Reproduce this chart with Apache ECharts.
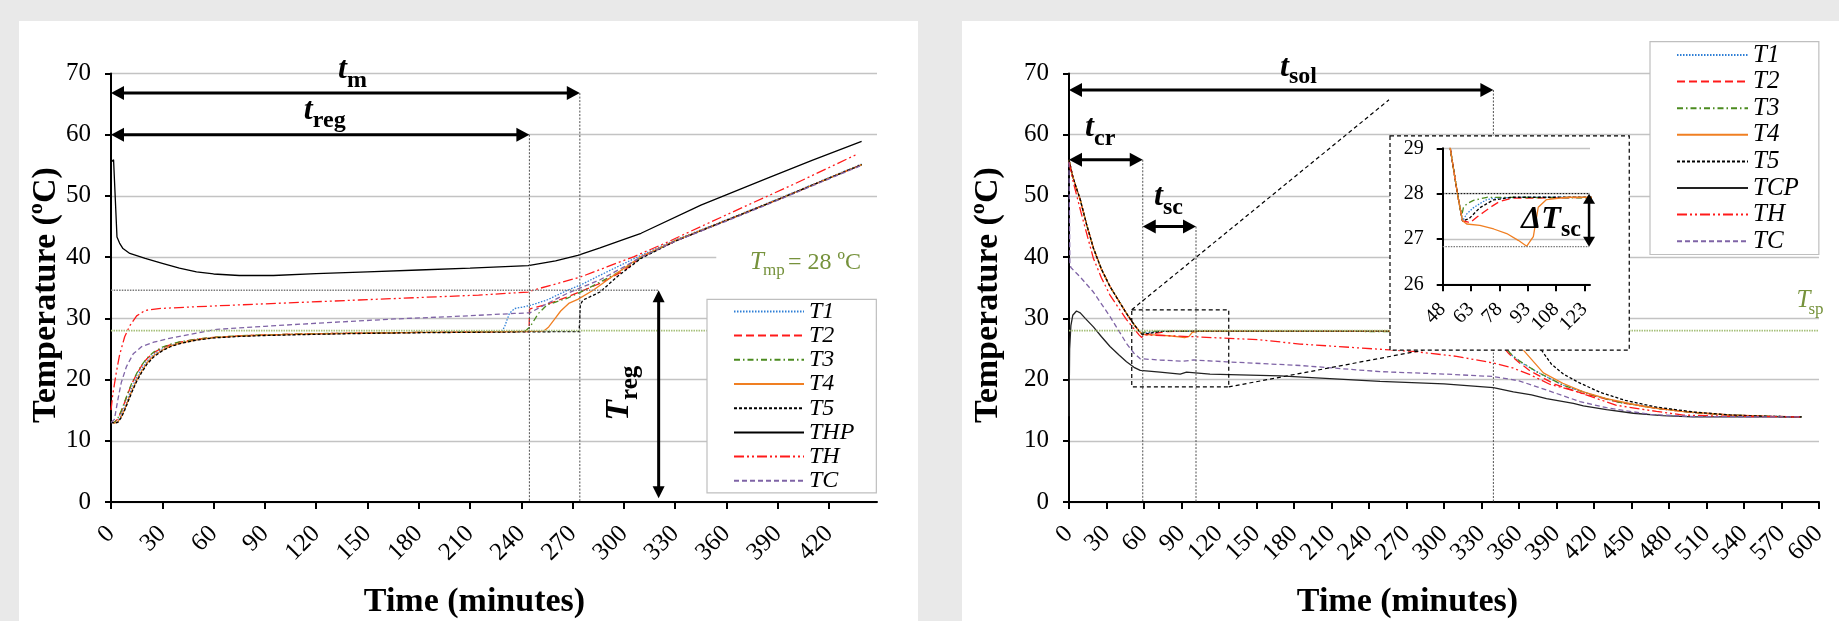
<!DOCTYPE html>
<html><head><meta charset="utf-8">
<script src="https://cdn.jsdelivr.net/npm/echarts@6/dist/echarts.min.js"></script>
<style>
html,body{margin:0;padding:0;background:#e9e9e9;width:1839px;height:621px;overflow:hidden}
.panel{position:absolute;background:#fff}
#chart{position:absolute;left:0;top:0;width:1839px;height:621px}
</style></head><body>
<div class="panel" style="left:19px;top:21px;width:899px;height:600px"></div>
<div class="panel" style="left:962px;top:21px;width:877px;height:600px"></div>
<div id="chart"></div>
<script>
// ---------------- DATA ----------------
const xTicksLeft = [0,30,60,90,120,150,180,210,240,270,300,330,360,390,420];
const xTicksRight = [0,30,60,90,120,150,180,210,240,270,300,330,360,390,420,450,480,510,540,570,600];
const xTicksInset = [48,63,78,93,108,123];
const legendLeft = ['T1','T2','T3','T4','T5','THP','TH','TC'];
const legendRight = ['T1','T2','T3','T4','T5','TCP','TH','TC'];

// Left chart (melting)
const L_T1 = [[0,13.0],[1,12.9],[2,12.9],[4,13.2],[6,14.2],[8,15.6],[10,17.0],[12,18.5],[15,20.3],[18,21.8],[21,23.0],[25,24.1],[30,25.0],[35,25.6],[40,26.0],[50,26.5],[60,26.85],[75,27.1],[90,27.25],[120,27.45],[150,27.6],[180,27.7],[210,27.75],[228,27.8],[230,28.5],[233,30.8],[236,31.6],[240,31.8],[245,32.1],[255,33.0],[267,34.6],[275,35.5],[285,36.9],[296,38.4],[310,40.3],[330,42.8],[360,46.1],[390,49.5],[420,53.0],[439,55.2]];
const L_T2 = [[0,13.0],[1,12.9],[2,13.0],[4,13.6],[6,14.8],[8,16.3],[10,17.8],[12,19.2],[15,20.9],[18,22.3],[21,23.4],[25,24.4],[30,25.2],[35,25.7],[40,26.1],[50,26.6],[60,26.9],[75,27.15],[90,27.3],[120,27.5],[150,27.6],[180,27.7],[210,27.78],[244.5,27.85],[244.8,31.5],[247,31.7],[255,32.3],[267,33.5],[286,35.7],[300,37.8],[310,40.0],[330,42.6],[360,46.0],[390,49.4],[420,52.9],[439,55.1]];
const L_T3 = [[0,13.0],[1,12.9],[2,13.0],[4,13.7],[6,14.9],[8,16.4],[10,17.9],[12,19.3],[15,21.0],[18,22.4],[21,23.5],[25,24.5],[30,25.3],[35,25.8],[40,26.15],[50,26.6],[60,26.9],[75,27.15],[90,27.3],[120,27.5],[150,27.6],[180,27.7],[210,27.78],[242,27.85],[245,28.6],[250,30.8],[255,32.2],[267,33.3],[277,34.6],[296,37.4],[310,39.9],[330,42.7],[360,46.0],[390,49.4],[420,52.9],[439,55.1]];
const L_T4 = [[0,13.0],[1,12.9],[2,12.9],[4,13.1],[6,13.9],[8,15.2],[10,16.6],[12,18.0],[15,19.9],[18,21.4],[21,22.7],[25,23.9],[30,24.8],[35,25.5],[40,25.9],[50,26.5],[60,26.85],[75,27.1],[90,27.25],[120,27.45],[150,27.6],[180,27.7],[210,27.75],[253,27.9],[256,28.6],[259,29.7],[263,31.2],[268,32.5],[273,33.1],[282,34.6],[296,37.4],[310,40.1],[330,42.7],[360,46.0],[390,49.4],[420,52.9],[439,55.1]];
const L_T5 = [[0,13.0],[1,12.9],[2,12.9],[4,13.0],[6,13.8],[8,15.0],[10,16.4],[12,17.8],[15,19.7],[18,21.2],[21,22.5],[25,23.7],[30,24.7],[35,25.4],[40,25.85],[50,26.45],[60,26.8],[75,27.05],[90,27.2],[120,27.4],[150,27.55],[180,27.65],[210,27.72],[273.8,27.85],[274.5,32.2],[276,33.0],[280,33.5],[286,34.3],[296,36.8],[310,39.8],[330,42.6],[360,46.0],[390,49.4],[420,52.9],[439,55.1]];
const L_THP = [[0,55.5],[1.5,55.9],[3.5,43.3],[5,42.3],[7,41.4],[11,40.6],[20,39.8],[30,39.0],[40,38.2],[50,37.6],[60,37.25],[75,37.0],[95,37.0],[120,37.3],[150,37.6],[180,37.9],[210,38.2],[244,38.6],[260,39.4],[273,40.3],[286,41.5],[300,42.9],[310,43.9],[345,48.5],[384,52.9],[410,55.8],[439,58.9]];
const L_TH = [[0,15.0],[1,17.5],[3,21.0],[5,24.0],[8,27.0],[11,28.8],[15,30.4],[20,31.3],[28,31.6],[50,31.9],[75,32.2],[110,32.6],[145,33.0],[180,33.4],[215,33.8],[244,34.3],[248,34.7],[260,35.6],[275,36.8],[290,38.4],[306,40.1],[325,42.4],[345,45.0],[370,48.2],[400,52.0],[437,56.9]];
const L_TC = [[0,13.0],[2,13.5],[4,16.7],[6,19.5],[9,22.1],[13,24.2],[18,25.4],[25,26.1],[32,26.6],[50,27.6],[62,28.2],[90,28.7],[120,29.2],[166,29.9],[200,30.3],[236,30.8],[245,30.9],[255,32.4],[267,34.1],[286,36.3],[300,38.4],[310,40.0],[330,42.6],[360,45.9],[390,49.3],[420,52.8],[439,55.0]];

// Right chart (solidification)
const R_cool = [[0,55.9],[3,53.2],[6,51.2],[9,49.4],[14,45.4],[19.5,41.5],[26,38.0],[32.8,35.2],[40,32.8],[46,30.8],[52,29.0],[56,27.95]];
const R_T1 = R_cool.concat([[58.5,27.4],[60.7,27.55],[64,27.68],[67.7,27.78],[71,27.86],[74.8,27.9],[90,27.92],[150,27.92],[250,27.9],[340,27.85],[345,26.8],[349,25.3],[353,24.2],[360,23.0],[374,21.3],[395,19.1],[420,17.4],[440,16.3],[470,15.3],[500,14.6],[530,14.2],[560,14.0],[586,13.9]]);
const R_T2 = R_cool.concat([[58.5,27.4],[60.7,27.38],[62.5,27.36],[66,27.48],[70,27.6],[74,27.72],[78.3,27.83],[85,27.9],[150,27.92],[250,27.9],[338,27.85],[342,26.7],[346,25.6],[352,24.2],[360,22.8],[369,21.4],[389,19.2],[410,17.8],[440,16.3],[470,15.3],[500,14.6],[530,14.2],[560,14.0],[586,13.9]]);
const R_T3 = R_cool.concat([[58,27.5],[59,27.7],[61,27.78],[64.3,27.85],[71.5,27.92],[150,27.9],[250,27.85],[341,27.8],[346,26.4],[350,25.1],[353,24.3],[360,23.1],[374,21.3],[395,19.1],[420,17.4],[440,16.3],[470,15.3],[500,14.6],[530,14.2],[560,14.0],[586,13.9]]);
const R_T4 = R_cool.concat([[58.5,27.4],[60.7,27.33],[67.7,27.3],[75,27.22],[81.9,27.12],[88,26.97],[92.5,26.84],[96,27.05],[98.6,27.7],[103,27.87],[114,27.92],[250,27.92],[352,27.9],[357,27.0],[360,26.1],[363.5,24.8],[370,23.3],[379.5,21.1],[395,19.4],[411.5,18.0],[430,16.9],[460,15.6],[490,14.8],[530,14.2],[560,14.0],[586,13.9]]);
const R_T5 = R_cool.concat([[58.5,27.4],[62,27.45],[67.7,27.69],[74.8,27.86],[85,27.92],[250,27.92],[366,27.9],[372,26.8],[378,24.8],[386,22.5],[395.5,20.9],[408,19.5],[425,17.9],[445,16.6],[470,15.5],[500,14.7],[530,14.2],[560,14.0],[586,13.9]]);
const R_TCP = [[0,14.0],[0.5,25.0],[1.5,28.8],[3,30.5],[6,31.2],[9,30.9],[13,30.0],[19.5,28.6],[26,27.0],[32.8,25.4],[40,24.0],[46,22.9],[52,22.0],[57,21.5],[72.8,21.2],[89,20.9],[94,21.2],[112.8,20.9],[168.8,20.6],[248.8,19.7],[300,19.3],[339.5,18.7],[355.5,18.0],[370,17.5],[382,16.9],[403.5,16.1],[411.5,15.7],[430,15.1],[451.5,14.5],[475,14.1],[499,13.9],[586,13.9]];
const R_TH = [[0,55.5],[3.5,52.2],[10,47.0],[19.5,39.8],[26,36.6],[32.8,33.8],[40,31.6],[46,29.8],[52,28.3],[56,27.3],[58,26.9],[61,27.3],[75,27.2],[99.5,27.0],[152.8,26.5],[184.8,25.8],[230,25.2],[275.5,24.6],[310,23.8],[339.5,22.7],[355,21.9],[368.8,20.8],[385,19.2],[403.5,18.2],[438,15.8],[470,14.8],[491.5,14.2],[530,14.0],[586,13.9]];
const R_TC = [[0,55.5],[0.7,39.0],[1.5,38.3],[8.8,36.8],[19.5,34.3],[32.8,30.3],[46,25.9],[52,24.3],[57,23.4],[72.8,23.2],[91.5,23.0],[99.5,23.2],[126,22.9],[184.8,22.3],[248.8,21.3],[300,20.9],[339.5,20.5],[360,19.8],[382,18.3],[408.8,16.4],[430,15.4],[465,14.3],[500,13.95],[586,13.9]];

// characteristic times / temperatures used by annotations
const tM = 274.2, tReg = 244.7, TregLevel = 34.6, TregX = 320.3;
const tSol = 339.5, tCr = 59, tSc = 101.6, Tmp = 28, dTlow = 26.83;

// ---------------- STYLE ----------------
const serif = 'Liberation Serif';
const ST = {
  T1:{c:'#2e7fd6', d:[1.5,1.5]},
  T2:{c:'#ff1a1a', d:[8,4]},
  T3:{c:'#4b8b1f', d:[6,3,1.5,3]},
  T4:{c:'#f07f22', d:'solid'},
  T5:{c:'#000000', d:[3,2]},
  THP:{c:'#000000', d:'solid'},
  TCP:{c:'#222222', d:'solid'},
  TH:{c:'#ff1a1a', d:[10,3,2,3,2,3]},
  TC:{c:'#7f64a6', d:[5,3]}
};
function S(name, data, gi, z){
  const st = ST[name];
  return {name, type:'line', xAxisIndex:gi, yAxisIndex:gi, data, symbol:'none', showSymbol:false,
    lineStyle:{color:st.c, width:1.3, type:st.d}, itemStyle:{color:st.c},
    z: z||2, silent:true, clip:true, emphasis:{disabled:true}};
}
function xAx(gi, min, max, ticks, fs, margin, z){
  return {type:'value', gridIndex:gi, min, max, z:z||0,
    axisLine:{show:true, onZero:false, lineStyle:{color:'#000', width:2}},
    axisTick:{show:true, customValues:ticks, length:7, lineStyle:{color:'#000', width:2}},
    axisLabel:{customValues:ticks, rotate:45, margin, fontSize:fs, fontFamily:serif, color:'#000'},
    splitLine:{show:false}};
}
function yAx(gi, min, max, interval, fs, margin, z){
  return {type:'value', gridIndex:gi, min, max, interval, z:z||0,
    axisLine:{show:true, lineStyle:{color:'#000', width:2}},
    axisTick:{show:true, length:6, lineStyle:{color:'#000', width:2}},
    axisLabel:{margin, fontSize:fs, fontFamily:serif, color:'#000'},
    splitLine:{show:true, lineStyle:{color:'#c3c3c3', width:1.3}}};
}
function legend(names, left, top, fs, lh, iw, pad){
  const ts = {fontFamily:serif, fontStyle:'italic', fontSize:fs, lineHeight:lh, color:'#000'};
  return {data:names.map(n => ({name:n, textStyle:ts})), orient:'vertical', left, top, itemWidth:iw, itemHeight:14, itemGap:0,
    padding:pad, backgroundColor:'#fff', borderColor:'#bfbfbf', borderWidth:1.2,
    selectedMode:false,
    itemStyle:{color:'rgba(0,0,0,0)', borderWidth:0, opacity:0},
    textStyle:ts};
}

const option = {
  animation:false,
  grid:[
    {left:111, top:73.5, width:766, height:428.5, outerBoundsMode:'none'},
    {left:1069, top:73.5, width:750, height:428.5, outerBoundsMode:'none'},
    {left:1442.7, top:148.3, width:147.3, height:136, outerBoundsMode:'none', z:11}
  ],
  xAxis:[
    xAx(0, 0, 448, xTicksLeft, 25, 28),
    xAx(1, 0, 600, xTicksRight, 25, 28),
    xAx(2, 48, 126, xTicksInset, 20, 22, 11)
  ],
  yAxis:[
    yAx(0, 0, 70, 10, 25, 20),
    yAx(1, 0, 70, 10, 25, 20),
    yAx(2, 26, 29, 1, 20, 19, 11)
  ],
  legend:[
    legend(legendLeft, 707, 299.3, 24, 24.2, 70, [0,22,0,26]),
    legend(legendRight, 1650, 41.7, 25, 26.6, 71, [0,20,0,26])
  ],
  series:[
    S('T1', L_T1, 0), S('T2', L_T2, 0), S('T3', L_T3, 0), S('T4', L_T4, 0), S('T5', L_T5, 0),
    S('THP', L_THP, 0), S('TH', L_TH, 0), S('TC', L_TC, 0),
    S('T1', R_T1, 1), S('T2', R_T2, 1), S('T3', R_T3, 1), S('T4', R_T4, 1), S('T5', R_T5, 1),
    S('TCP', R_TCP, 1), S('TH', R_TH, 1), S('TC', R_TC, 1),
    S('T1', R_T1, 2, 12), S('T2', R_T2, 2, 12), S('T3', R_T3, 2, 12), S('T5', R_T5, 2, 12), S('T4', R_T4, 2, 12)
  ]
};

const chart = echarts.init(document.getElementById('chart'), null, {renderer:'canvas', width:1839, height:621});
chart.setOption(option);

// ---------------- ANNOTATIONS (positioned through the axes' scales) ----------------
const P = (g, a) => chart.convertToPixel({gridIndex:g}, a);
const G = [];
function seg(g, a, b, st, z){
  const p = P(g,a), q = P(g,b);
  G.push({type:'line', silent:true, z:z||3, shape:{x1:p[0],y1:p[1],x2:q[0],y2:q[1]},
    style:Object.assign({stroke:'#000', lineWidth:1, fill:null}, st)});
}
function box(g, a, b, st, z){
  const p = P(g,a), q = P(g,b);
  G.push({type:'rect', silent:true, z:z||3, shape:{x:Math.min(p[0],q[0]), y:Math.min(p[1],q[1]), width:Math.abs(q[0]-p[0]), height:Math.abs(q[1]-p[1])},
    style:Object.assign({stroke:'#000', lineWidth:1, fill:null}, st)});
}
function arrow(g, a, b, o){
  o = o || {};
  const p = P(g,a), q = P(g,b);
  const dx=q[0]-p[0], dy=q[1]-p[1], L=Math.hypot(dx,dy), ux=dx/L, uy=dy/L;
  const hl=o.hl||13, hw=o.hw||7, z=o.z||5;
  G.push({type:'line', silent:true, z, shape:{x1:p[0]+ux*hl*0.7, y1:p[1]+uy*hl*0.7, x2:q[0]-ux*hl*0.7, y2:q[1]-uy*hl*0.7},
    style:{stroke:'#000', lineWidth:o.lw||3}});
  const head = (t, vx, vy) => [[t[0],t[1]],[t[0]-vx*hl-vy*hw, t[1]-vy*hl+vx*hw],[t[0]-vx*hl+vy*hw, t[1]-vy*hl-vx*hw]];
  G.push({type:'polygon', silent:true, z, shape:{points:head(q,ux,uy)}, style:{fill:'#000'}});
  G.push({type:'polygon', silent:true, z, shape:{points:head(p,-ux,-uy)}, style:{fill:'#000'}});
}
function txtEl(x, baseline, text, size, o){
  o = o || {};
  return {type:'text', silent:true, z:o.z||6, x, y:baseline-0.305*size,
    style:{text, fontSize:size, fontFamily:serif, fontWeight:o.bold?'bold':'normal', fontStyle:o.italic?'italic':'normal',
      fill:o.color||'#000', align:o.align||'left', textAlign:o.align||'left', verticalAlign:'middle', textVerticalAlign:'middle'}};
}
function subLabel(g, at, base, sub, o){
  o = o || {};
  const p = P(g, at), bs=o.bs||32, ss=o.ss||24, drop=o.drop||8, z=o.z||6;
  G.push(txtEl(p[0], p[1], base, bs, {bold:true, italic:true, align:'right', z, color:o.color}));
  G.push(txtEl(p[0]+(o.gap||0), p[1]+drop, sub, ss, {bold:true, align:'left', z, color:o.color}));
}
const dotted = {stroke:'#505050', lineWidth:1, lineDash:[2,1.5]};
const dashed = {stroke:'#000', lineWidth:1.2, lineDash:[4,3]};
const green = {stroke:'#a6c07a', lineWidth:1.6, lineDash:[1.5,1]};
const olive = '#76923c';

// ----- left chart -----
seg(0, [0,Tmp], [448,Tmp], green, 3);
box(0, [354,41.8], [448,36], {stroke:null, fill:'#fff'}, 1);
(function(){
  const p = P(0, [373.7, 37.9]);
  G.push(txtEl(p[0], p[1], 'T', 25, {italic:true, color:olive}));
  G.push(txtEl(p[0]+13, p[1]+6, 'mp', 17, {color:olive}));
  G.push(txtEl(p[0]+38, p[1], '= 28 ºC', 24, {color:olive}));
})();
seg(0, [0,TregLevel], [TregX,TregLevel], {stroke:'#7a7a7a', lineWidth:1.6, lineDash:[1.5,1.2]}, 3);
seg(0, [tReg,60], [tReg,0], dotted, 3);
seg(0, [tM,66.8], [tM,0], dotted, 3);
arrow(0, [0,66.8], [tM,66.8]);
arrow(0, [0,60], [tReg,60]);
arrow(0, [TregX,TregLevel], [TregX,0.6], {hl:12, hw:6});
subLabel(0, [138, 68.94], 't', 'm');
subLabel(0, [118, 62.4], 't', 'reg');
(function(){
  const p = P(0, [303.5, 16.66]);
  G.push({type:'group', x:p[0], y:p[1], rotation:Math.PI/2, silent:true, children:[
    txtEl(0, 0, 'T', 34, {bold:true, italic:true, align:'right'}),
    txtEl(0, 8, 'reg', 25, {bold:true, align:'left'})
  ]});
})();

// ----- right chart -----
seg(1, [0,Tmp], [600,Tmp], green, 3);
seg(1, [tSol,67.3], [tSol,0], dotted, 3);
seg(1, [tCr,55.9], [tCr,0], dotted, 3);
seg(1, [tSc,45], [tSc,0], dotted, 3);
arrow(1, [0,67.3], [tSol,67.3]);
arrow(1, [0,55.9], [tCr,55.9]);
arrow(1, [tCr,45], [tSc,45]);
box(1, [50.2,31.4], [127.8,18.8], dashed, 3);
seg(1, [50.2,31.4], [256,65.7], dashed, 3);
seg(1, [127.8,18.8], [283.2,24.8], dashed, 3);
box(1, [256.8,59.8], [448.2,24.8], {stroke:'#000', lineWidth:1.2, lineDash:[4,3], fill:'#fff'}, 10);
subLabel(1, [176, 69.3], 't', 'sol', {drop:6});
subLabel(1, [20, 59.5], 't', 'cr');
subLabel(1, [75.2, 48.2], 't', 'sc');
(function(){
  const p = P(1, [582, 31.65]);
  G.push(txtEl(p[0], p[1], 'T', 25, {italic:true, color:olive}));
  G.push(txtEl(p[0]+12, p[1]+6, 'sp', 17, {color:olive}));
})();

// ----- inset -----
seg(2, [48,Tmp], [125.5,Tmp], {stroke:'#000', lineWidth:1, lineDash:[1.5,1.5]}, 13);
seg(2, [48,dTlow], [125.5,dTlow], {stroke:'#7a7a7a', lineWidth:1.3, lineDash:[1.5,1.2]}, 13);
arrow(2, [125.5,Tmp], [125.5,dTlow], {hl:10, hw:6, lw:2.5, z:13});
subLabel(2, [110.6, 27.2], 'ΔT', 'sc', {drop:7, z:13});

// ----- axis titles -----
G.push(txtEl(474.5, 613, 'Time (minutes)', 34, {bold:true, align:'center'}));
G.push(txtEl(1407.5, 613, 'Time (minutes)', 34, {bold:true, align:'center'}));
G.push({type:'group', x:57, y:295, rotation:Math.PI/2, silent:true, children:[
  txtEl(0, 0, 'Temperature (ºC)', 34, {bold:true, align:'center'})]});
G.push({type:'group', x:998.5, y:295, rotation:Math.PI/2, silent:true, children:[
  txtEl(0, 0, 'Temperature (ºC)', 34, {bold:true, align:'center'})]});

chart.setOption({graphic:G});
</script>
</body></html>
